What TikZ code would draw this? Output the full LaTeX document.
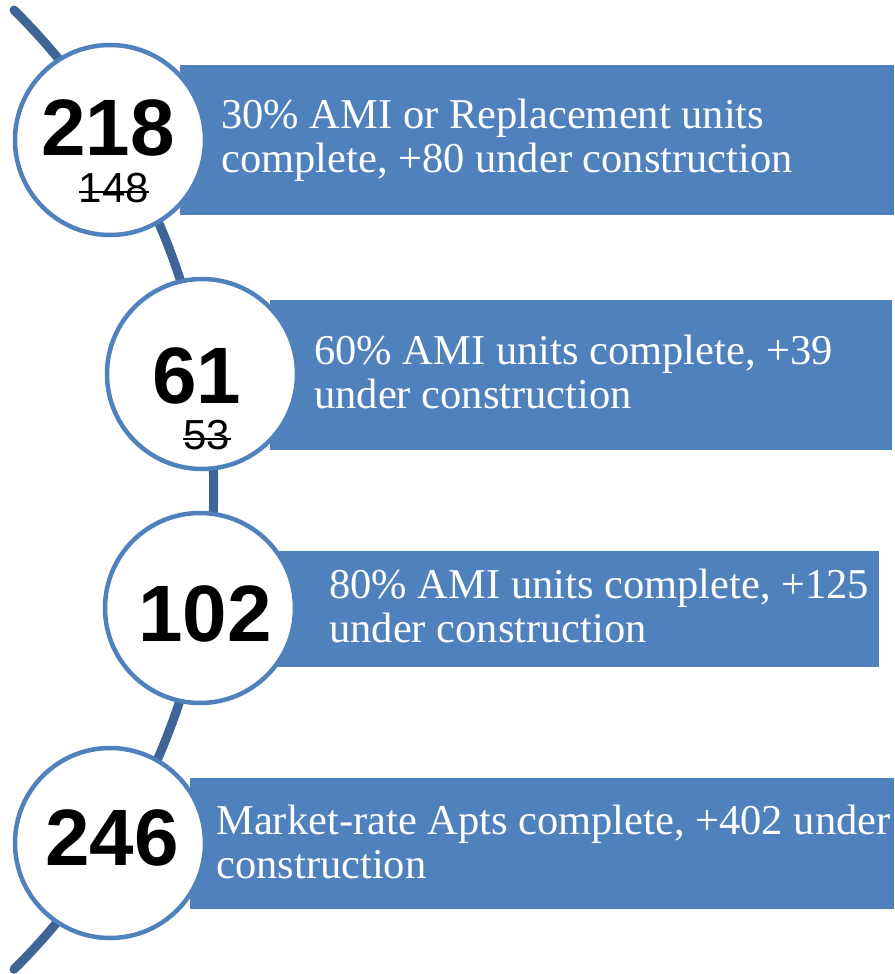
\documentclass[tikz,border=0pt]{standalone}
\usepackage{fontspec}
\setmainfont{Liberation Serif}
\newfontfamily\numfont{Liberation Sans}
\usetikzlibrary{calc}
\definecolor{accent}{HTML}{4F81BD}
\definecolor{spine}{HTML}{3E6596}

\begin{document}
\begin{tikzpicture}[x=1pt,y=-1pt,semithick]
  \tikzstyle{bubble}=[circle,draw=accent,line width=4.5pt,fill=white,minimum size=190pt,inner sep=0pt]
  \tikzstyle{bar}=[fill=accent,inner sep=0pt,anchor=north west]
  \tikzstyle{count}=[font=\numfont\bfseries\fontsize{80}{80}\selectfont,inner sep=0pt]
  \tikzstyle{old}=[font=\numfont\fontsize{42}{42}\selectfont,inner sep=0pt]
  \tikzstyle{caption}=[font=\fontsize{42.5}{43.5}\selectfont,text=white,align=left,inner sep=0pt,anchor=base west]
  \tikzstyle{strike}=[line width=2.5pt]

  \useasboundingbox (0,0) rectangle (894,974);

  % spine behind everything
  \coordinate (top) at (14,10);
  \draw[spine,line width=9pt,line cap=round] (top) arc[start angle=45.2,end angle=-45.2,radius=676pt];

  % bars
  \node[bar,minimum width=714pt,minimum height=150pt] (b1) at (180,65) {};
  \node[bar,minimum width=622pt,minimum height=150pt] (b2) at (270,300) {};
  \node[bar,minimum width=609pt,minimum height=116pt] (b3) at (270,551) {};
  \node[bar,minimum width=704pt,minimum height=131pt] (b4) at (190,778) {};

  % bubbles
  \node[bubble] (c1) at (110,140) {};
  \node[bubble] (c2) at (202,374) {};
  \node[bubble] (c3) at (200,608) {};
  \node[bubble] (c4) at (110,843) {};

  \node[count] (n1) at (108,127.5) {218};
  \node[old]   (o1) at (114,188)   {148};
  \draw[strike] ([yshift=-4pt]o1.west) -- ([yshift=-4pt]o1.east);
  \node[count] (n2) at (197,376)   {61};
  \node[old]   (o2) at (207,435)   {53};
  \draw[strike] ([yshift=-4pt]o2.west) -- ([yshift=-4pt]o2.east);
  \node[count] (n3) at (205,614)   {102};
  \node[count] (n4) at (112,837.5) {246};

  % captions (anchored on the last line)
  \node[caption] (t1) at (221,172) {30\% AMI or Replacement units\\complete, +80 under construction};
  \node[caption] (t2) at (314,408) {60\% AMI units complete, +39\\under construction};
  \node[caption] (t3) at (329,642) {80\% AMI units complete, +125\\under construction};
  \node[caption] (t4) at (216,878) {Market-rate Apts complete, +402 under\\construction};
\end{tikzpicture}
\end{document}
